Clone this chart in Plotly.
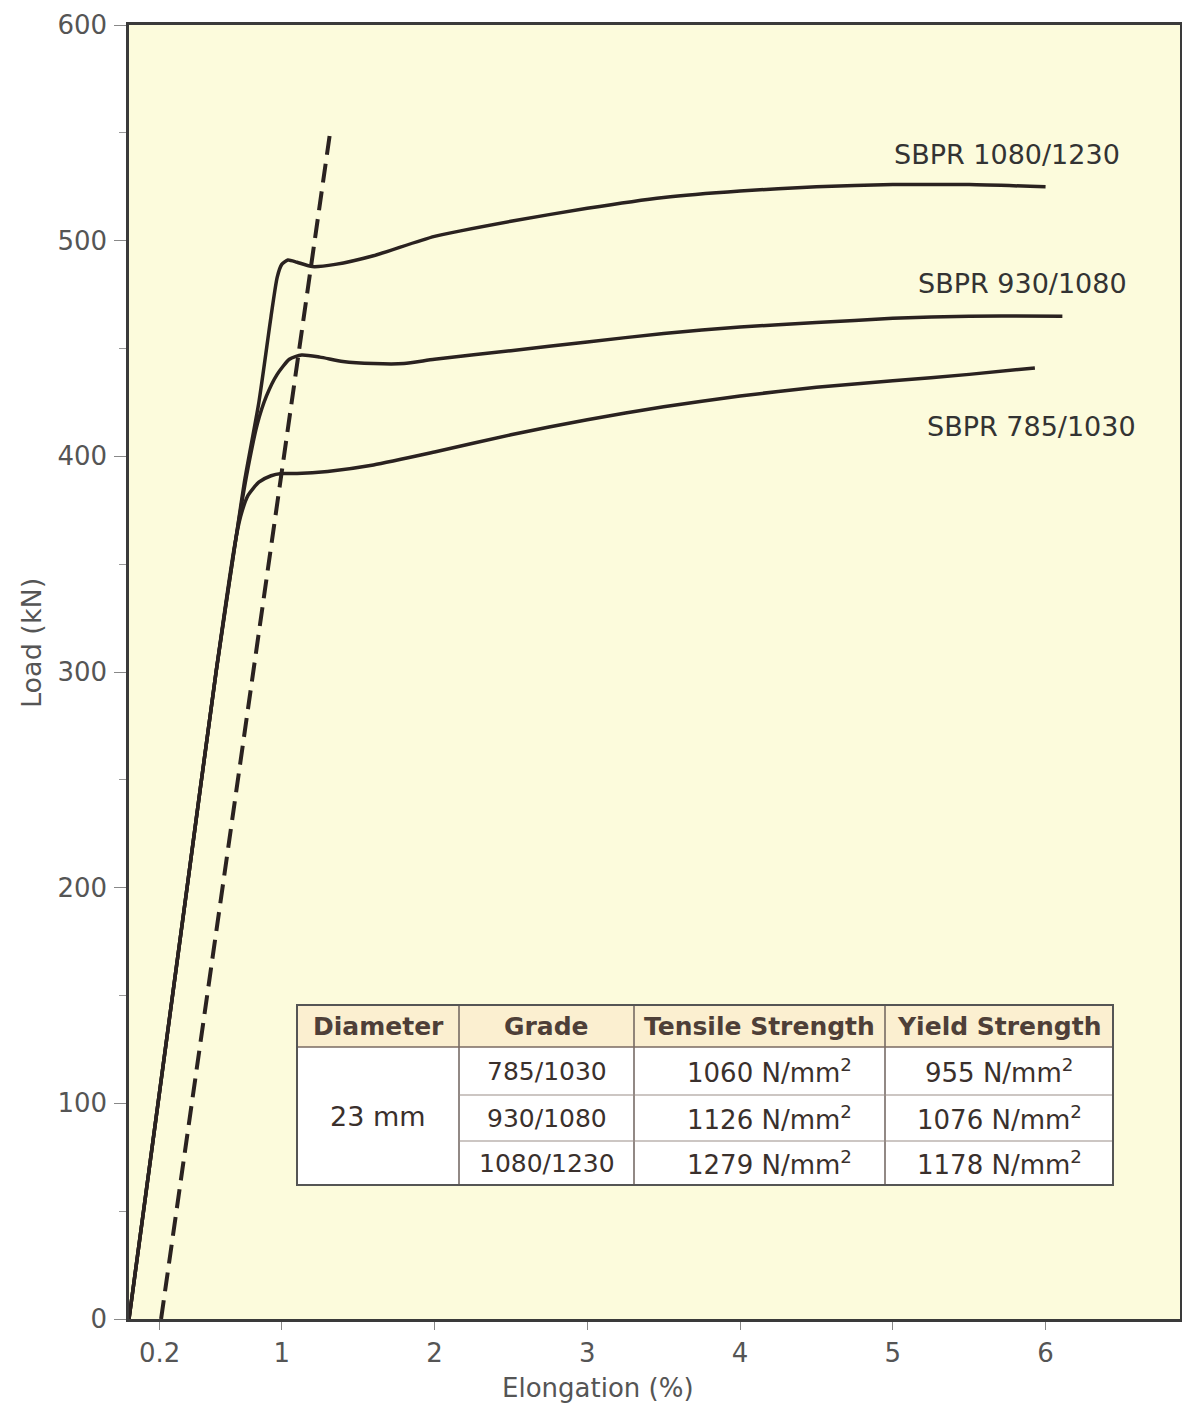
import plotly.graph_objects as go

# ---------------- data ----------------
elong_1080 = [0, 0.38, 0.57, 0.70, 0.76, 0.85, 0.93, 0.97, 1.00, 1.04, 1.10, 1.20, 1.35, 1.6, 2.0, 2.5, 3.0, 3.5, 4.0, 4.5, 5.0, 5.5, 6.0]
load_1080 = [0, 200, 300, 362, 390, 425, 465, 483, 489, 491, 490, 488, 489, 493, 502, 509, 515, 520, 523, 525, 526, 526, 525]

elong_930 = [0, 0.38, 0.57, 0.70, 0.78, 0.84, 0.90, 0.97, 1.05, 1.13, 1.25, 1.4, 1.6, 1.8, 2.0, 2.5, 3.0, 3.5, 4.0, 4.5, 5.0, 5.5, 6.11]
load_930 = [0, 200, 300, 362, 395, 415, 428, 438, 445, 447, 446, 444, 443, 443, 445, 449, 453, 457, 460, 462, 464, 465, 465]

elong_785 = [0, 0.38, 0.57, 0.69, 0.73, 0.78, 0.85, 0.93, 1.0, 1.1, 1.3, 1.6, 2.0, 2.5, 3.0, 3.5, 4.0, 4.5, 5.0, 5.5, 5.93]
load_785 = [0, 200, 300, 358, 372, 382, 388, 391, 392, 392, 393, 396, 402, 410, 417, 423, 428, 432, 435, 438, 441]

offset_elong = [0.21, 1.32]
offset_load = [0, 552]

series_labels = ["SBPR 1080/1230", "SBPR 930/1080", "SBPR 785/1030"]
label_x = [5.75, 5.85, 5.91]
label_y = [540, 480, 414]

x_tickvals = [0.2, 1, 2, 3, 4, 5, 6]
x_ticktext = ["0.2", "1", "2", "3", "4", "5", "6"]
y_tickvals = [0, 100, 200, 300, 400, 500, 600]

table_header = ["Diameter", "Grade", "Tensile Strength", "Yield Strength"]
table_diameter = "23 mm"
table_grade = ["785/1030", "930/1080", "1080/1230"]
table_tensile = ["1060 N/mm<sup>2</sup>", "1126 N/mm<sup>2</sup>", "1279 N/mm<sup>2</sup>"]
table_yield = ["955 N/mm<sup>2</sup>", "1076 N/mm<sup>2</sup>", "1178 N/mm<sup>2</sup>"]

# ---------------- style ----------------
FONT = "DejaVu Sans"
LINE = "#2a2220"
OFF = 8                      # page body margin
W, H = 1190 - OFF, 1411 - OFF
ML, MT = 129 - OFF, 25 - OFF
MR = W - (1180 - OFF)
MB = H - (1319 - OFF)
XR = [0, 6.88]
YR = [0, 600]

fig = go.Figure()
for xs, ys in [(elong_785, load_785), (elong_930, load_930), (elong_1080, load_1080)]:
    fig.add_trace(go.Scatter(x=xs, y=ys, mode="lines",
                             line=dict(color=LINE, width=3.5, shape="spline", smoothing=0.6),
                             hoverinfo="skip", showlegend=False))
fig.add_trace(go.Scatter(x=offset_elong, y=offset_load, mode="lines",
                         line=dict(color=LINE, width=4, dash="19px,9px"),
                         hoverinfo="skip", showlegend=False))

for t, x, y in zip(series_labels, label_x, label_y):
    fig.add_annotation(x=x, y=y, text=t, showarrow=False,
                       font=dict(family=FONT, size=27, color="#333333"))

# helpers: reference-picture pixel -> data / paper coordinates (layout only)
pw = W - ML - MR
ph = H - MT - MB
def px2x(px):
    return XR[0] + (px - OFF - ML) / pw * (XR[1] - XR[0])
def py2y(py):
    return YR[0] + (H - MB - (py - OFF)) / ph * (YR[1] - YR[0])
def px2paper(px):
    return (px - OFF - ML) / pw
def py2paper(py):
    return (H - MB - (py - OFF)) / ph

cols = [297, 459, 634, 885, 1113]
rows = [1005, 1047, 1095, 1141, 1185]
fig.add_shape(type="rect", x0=px2x(cols[0]), x1=px2x(cols[-1]), y0=py2y(rows[1]), y1=py2y(rows[0]),
              fillcolor="#FBEFD0", line=dict(width=0), layer="above")
fig.add_shape(type="rect", x0=px2x(cols[0]), x1=px2x(cols[-1]), y0=py2y(rows[-1]), y1=py2y(rows[1]),
              fillcolor="#FFFFFF", line=dict(width=0), layer="above")
for c in cols[1:-1]:
    fig.add_shape(type="line", x0=px2x(c), x1=px2x(c), y0=py2y(rows[-1]), y1=py2y(rows[0]),
                  line=dict(color="#6e625c", width=1.5), layer="above")
fig.add_shape(type="line", x0=px2x(cols[0]), x1=px2x(cols[-1]), y0=py2y(rows[1]), y1=py2y(rows[1]),
              line=dict(color="#7a6a62", width=1.5), layer="above")
for r in rows[2:-1]:
    fig.add_shape(type="line", x0=px2x(cols[1]), x1=px2x(cols[-1]), y0=py2y(r), y1=py2y(r),
                  line=dict(color="#9a8e88", width=1.2), layer="above")
fig.add_shape(type="rect", x0=px2x(cols[0]), x1=px2x(cols[-1]), y0=py2y(rows[-1]), y1=py2y(rows[0]),
              line=dict(color="#555555", width=2), layer="above")

def cell(text, c0, c1, r0, r1, size=25, bold=False, color="#3a302c"):
    fig.add_annotation(x=px2x((c0 + c1) / 2), y=py2y((r0 + r1) / 2),
                       text=f"<b>{text}</b>" if bold else text,
                       showarrow=False, font=dict(family=FONT, size=size, color=color))

for i, h in enumerate(table_header):
    cell(h, cols[i], cols[i + 1], rows[0], rows[1], size=25, bold=True, color="#4e3f38")
cell(table_diameter, cols[0], cols[1], rows[1], rows[-1], size=27)
for j in range(3):
    cell(table_grade[j], cols[1], cols[2], rows[j + 1], rows[j + 2], size=25)
    cell(table_tensile[j], cols[2] + 20, cols[3], rows[j + 1], rows[j + 2], size=26)
    cell(table_yield[j], cols[3], cols[4], rows[j + 1], rows[j + 2], size=26)

# axis titles
fig.add_annotation(xref="paper", yref="paper", x=px2paper(598), y=py2paper(1388),
                   xanchor="center", yanchor="middle",
                   text="Elongation (%)", showarrow=False,
                   font=dict(family=FONT, size=26, color="#555555"))
fig.add_annotation(xref="paper", yref="paper", x=px2paper(31), y=py2paper(643),
                   xanchor="center", yanchor="middle",
                   text="Load (kN)", showarrow=False, textangle=-90,
                   font=dict(family=FONT, size=27, color="#555555"))

fig.update_xaxes(range=XR, tickvals=x_tickvals, ticktext=x_ticktext, ticks="outside", ticklen=8,
                 tickcolor="#888888", tickwidth=1.2, showgrid=False, zeroline=False,
                 showline=True, linecolor="#3a3a3a", linewidth=3, mirror=True, automargin=False,
                 tickfont=dict(family=FONT, size=26, color="#555555"), ticklabelstandoff=1)
fig.update_yaxes(range=YR, tickvals=y_tickvals, ticks="outside", ticklen=12,
                 tickcolor="#888888", tickwidth=1.2, showgrid=False, zeroline=False,
                 showline=True, linecolor="#3a3a3a", linewidth=2.5, mirror=True, automargin=False,
                 minor=dict(tickvals=[50, 150, 250, 350, 450, 550], ticks="outside", ticklen=7, tickcolor="#999999"),
                 tickfont=dict(family=FONT, size=26, color="#555555"), ticklabelstandoff=2)

fig.update_layout(width=W, height=H, margin=dict(l=ML, r=MR, t=MT, b=MB, autoexpand=False),
                  plot_bgcolor="#FCFBDC", paper_bgcolor="#FFFFFF", showlegend=False)

fig.write_html("out.html")
